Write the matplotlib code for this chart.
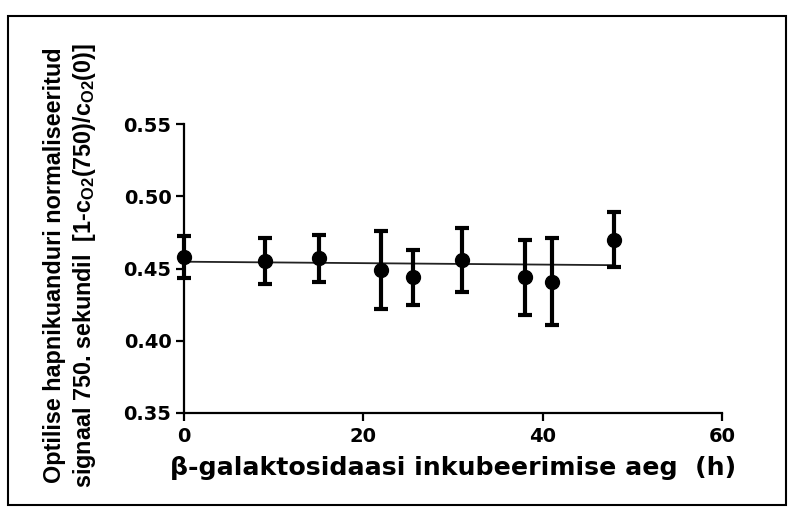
import numpy as np
import matplotlib.pyplot as plt
from matplotlib.patches import Rectangle

plt.rcParams['font.family'] = ['Liberation Sans', 'DejaVu Sans']
plt.rcParams['font.weight'] = 'bold'
plt.rcParams['mathtext.fontset'] = 'custom'
plt.rcParams['mathtext.rm'] = 'Liberation Sans:bold'
plt.rcParams['mathtext.it'] = 'Liberation Sans:bold'
plt.rcParams['mathtext.bf'] = 'Liberation Sans:bold'

# ===== Data =====
hours = [0, 9, 15, 22, 25.5, 31, 38, 41, 48]
signal = [0.458, 0.455, 0.457, 0.449, 0.444, 0.456, 0.444, 0.441, 0.470]
signal_err = [0.0145, 0.016, 0.016, 0.027, 0.019, 0.022, 0.026, 0.030, 0.019]

# linear fit (intercept, slope)
fit_intercept = 0.4547
fit_slope = -0.00005

x_ticks = [0, 20, 40, 60]
y_ticks = [0.35, 0.40, 0.45, 0.50, 0.55]

# ===== Figure =====
fig = plt.figure(figsize=(7.92, 5.12), dpi=100)
ax = fig.add_axes([184 / 792, 1 - 413 / 512, (722 - 184) / 792, (413 - 124) / 512])

# frame around the whole figure
fig.patches.append(Rectangle((8 / 792, 1 - 505 / 512), 778 / 792, 489 / 512,
                             transform=fig.transFigure, fill=False,
                             edgecolor='black', linewidth=1.5))

fit_x = np.array([min(hours), max(hours)])
ax.plot(fit_x, fit_intercept + fit_slope * fit_x, color='#222222', linewidth=1.3, zorder=2)

ax.errorbar(hours, signal, yerr=signal_err, fmt='o', color='black',
            markersize=10, elinewidth=3, capsize=5, capthick=3, zorder=3,
            clip_on=False)

ax.set_xlim(0, 60)
ax.set_ylim(0.35, 0.55)
ax.set_xticks(x_ticks)
ax.set_yticks(y_ticks)
ax.set_yticklabels([f"{v:.2f}" for v in y_ticks])

for side in ['top', 'right']:
    ax.spines[side].set_visible(False)
for side in ['left', 'bottom']:
    ax.spines[side].set_linewidth(1.6)

# wide bold labels on the axes
tick_font = {'family': 'DejaVu Sans', 'weight': 'bold', 'size': 14}
ax.tick_params(axis='both', width=1.6, length=6)
ax.tick_params(axis='y', pad=3)
ax.tick_params(axis='x', pad=4)
for lbl in ax.get_xticklabels() + ax.get_yticklabels():
    lbl.set_fontproperties(tick_font)

ax.set_xlabel("β-galaktosidaasi inkubeerimise aeg  (h)",
              fontdict={'family': 'DejaVu Sans', 'weight': 'bold', 'size': 18.2},
              labelpad=7)

fig.text(0.089, 0.482,
         "Optilise hapnikuanduri normaliseeritud\n"
         r"signaal 750. sekundil  [1-c$_{\mathrm{O2}}$(750)/c$_{\mathrm{O2}}$(0)]",
         rotation=90, ha='center', va='center', multialignment='center',
         fontsize=16.8, fontweight='bold', linespacing=1.25)

fig.savefig("out.png", dpi=100)
